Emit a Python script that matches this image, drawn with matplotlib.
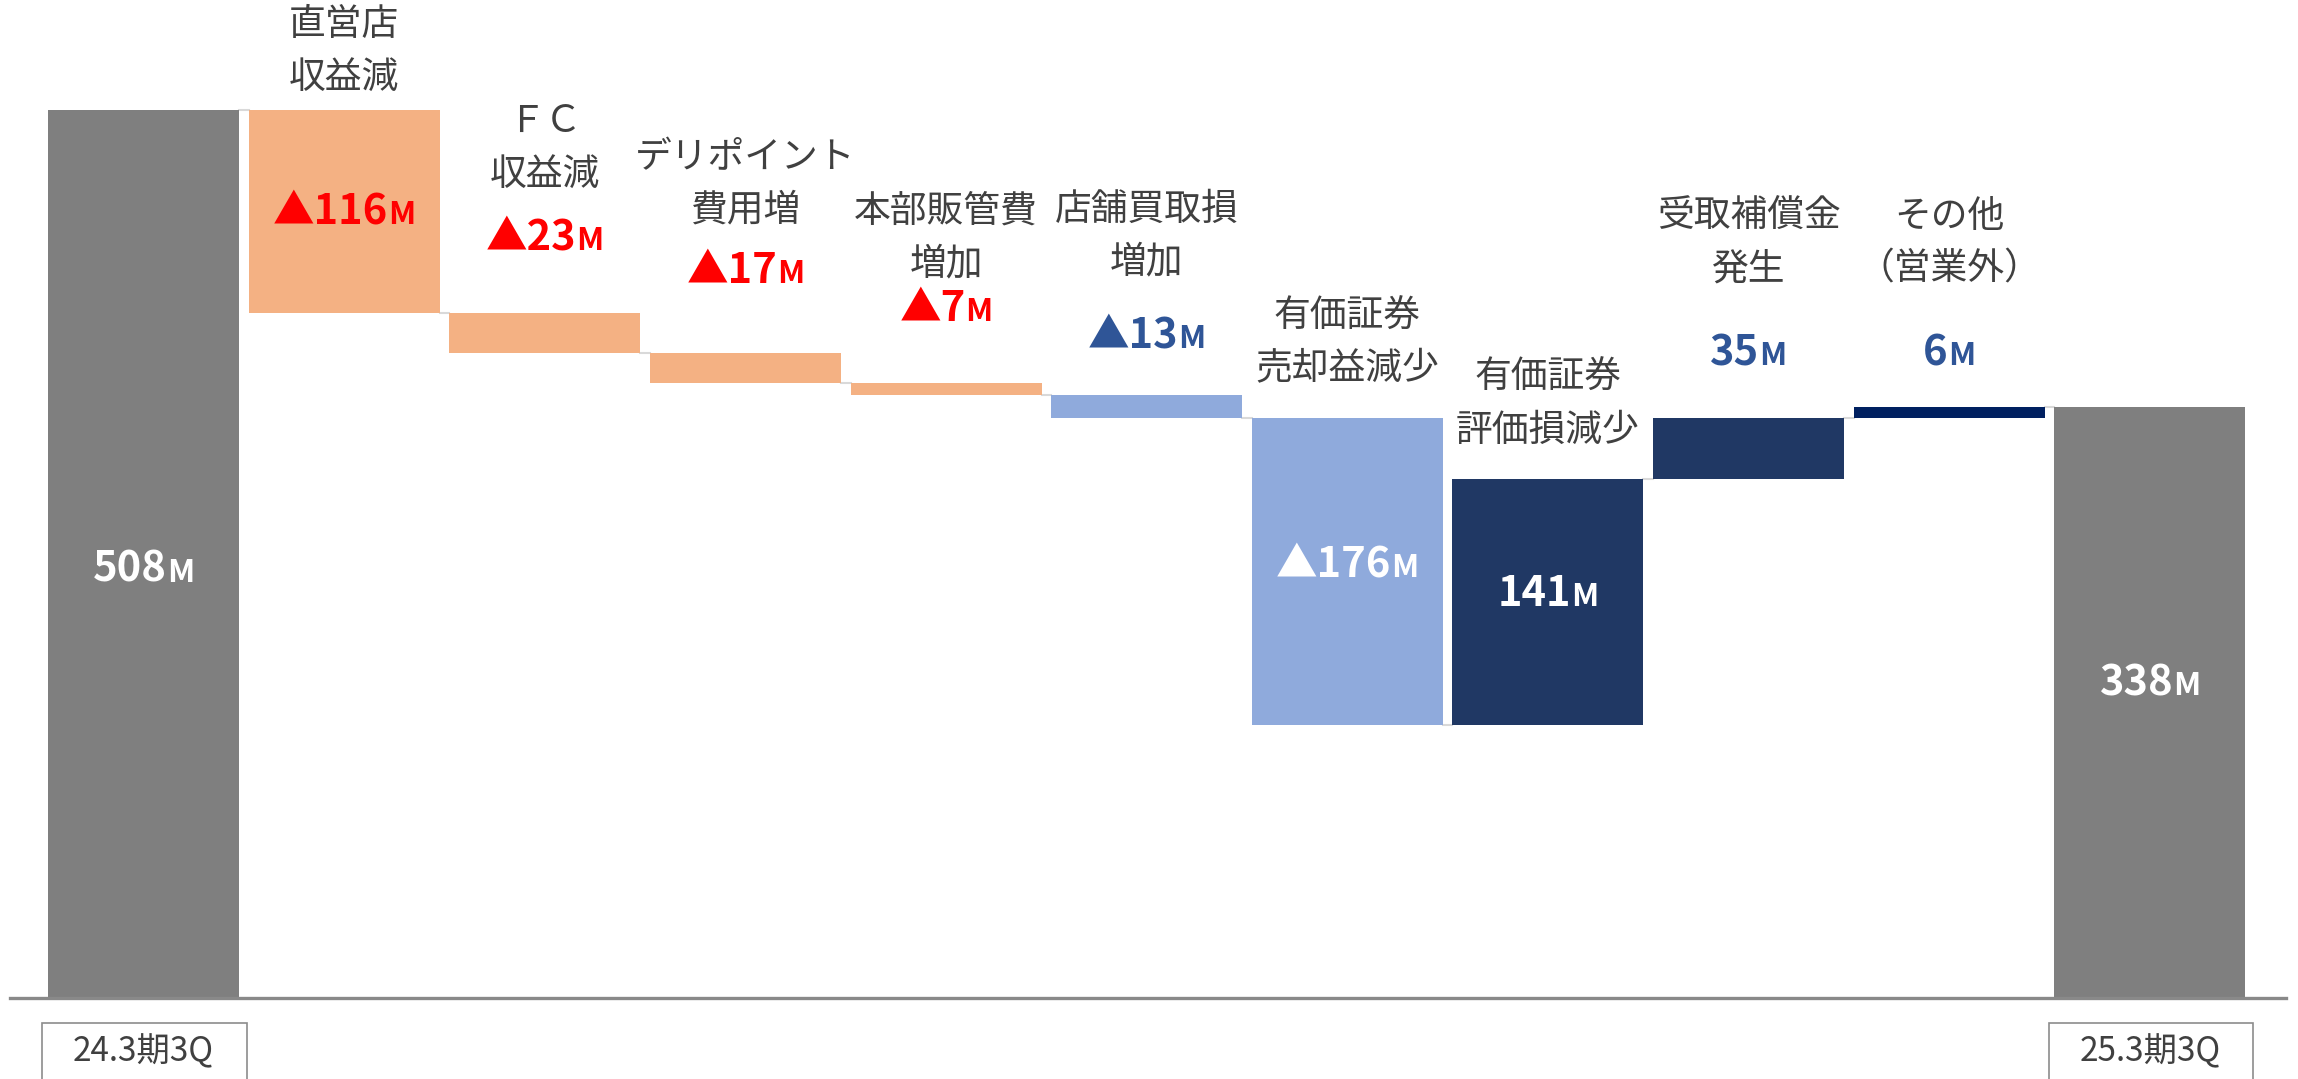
import matplotlib.pyplot as plt
from matplotlib.patches import Rectangle
from matplotlib.offsetbox import TextArea, HPacker, AnnotationBbox

plt.rcParams['font.family'] = ['Noto Sans CJK JP', 'DejaVu Sans']

# data
start_label = '24.3期3Q'
end_label = '25.3期3Q'
start_value = 508
end_value = 338
step_labels = ['直営店\n収益減', 'ＦＣ\n収益減', 'デリポイント\n費用増', '本部販管費\n増加',
               '店舗買取損\n増加', '有価証券\n売却益減少', '有価証券\n評価損減少',
               '受取補償金\n発生', 'その他\n（営業外）']
step_values = [-116, -23, -17, -7, -13, -176, 141, 35, 6]

# styles / layout
bar_colors = ['#7f7f7f', '#f4b183', '#f4b183', '#f4b183', '#f4b183', '#8faadc',
              '#8faadc', '#203864', '#203864', '#002060', '#7f7f7f']
text_colors = ['white', '#ff0000', '#ff0000', '#ff0000', '#ff0000', '#2f5597',
               'white', 'white', '#2f5597', '#2f5597', 'white']
val_y = [245, 450, 435, 416, 394, 379, 248, 231, 369, 369, 180]
cat_y = [542, 486, 466, 435, 436, 375, 340, 432, 432]
bar_w = 0.952

fig = plt.figure(figsize=(22.98, 10.79), dpi=100)
ax = fig.add_axes([0, 0, 1, 1])
ax.set_xlim(-0.715, 10.738)
ax.set_ylim(-46.3, 571)
ax.axis('off')

# waterfall geometry
bottoms, heights, levels = [0], [start_value], [start_value]
run = start_value
for v in step_values:
    new = run + v
    bottoms.append(min(run, new))
    heights.append(abs(v))
    run = new
    levels.append(run)
bottoms.append(0)
heights.append(end_value)
levels.append(end_value)

xs = list(range(len(heights)))
ax.bar(xs, heights, bottom=bottoms, width=bar_w, color=bar_colors, zorder=2)

# connectors
for i in range(len(xs) - 1):
    ax.plot([i + bar_w / 2, i + 1 - bar_w / 2], [levels[i], levels[i]],
            color='#d9d9d9', lw=1.5, zorder=1)

# baseline
ax.axhline(0, xmin=0.0044, xmax=0.9948, color='#898989', lw=2.4, zorder=3)

# value labels
all_vals = [start_value] + step_values + [end_value]
for i, v in enumerate(all_vals):
    num = ('▲' if v < 0 else '') + str(abs(v))
    props = dict(fontsize=30, fontweight='bold', color=text_colors[i])
    props_m = dict(fontsize=23, fontweight='bold', color=text_colors[i])
    box = HPacker(children=[TextArea(num, textprops=props), TextArea('M', textprops=props_m)],
                  align='baseline', pad=0, sep=0)
    ab = AnnotationBbox(box, (i, val_y[i]), frameon=False, box_alignment=(0.5, 0.5),
                        zorder=4)
    ax.add_artist(ab)

# category labels above steps
for i, lab in enumerate(step_labels):
    ax.text(i + 1, cat_y[i], lab, ha='center', va='center', fontsize=26.5,
            color='#404040', linespacing=1.45)

# boxed period labels
for x, lab in [(0, start_label), (len(xs) - 1, end_label)]:
    ax.add_patch(Rectangle((x - 0.505, -70), 1.02, 70 - 14.3, fill=False,
                           edgecolor='#8c8c8c', lw=1.2))
    ax.text(x, -30.5, lab, ha='center', va='center', fontsize=24, color='#404040')

fig.savefig('out.png', dpi=100)
